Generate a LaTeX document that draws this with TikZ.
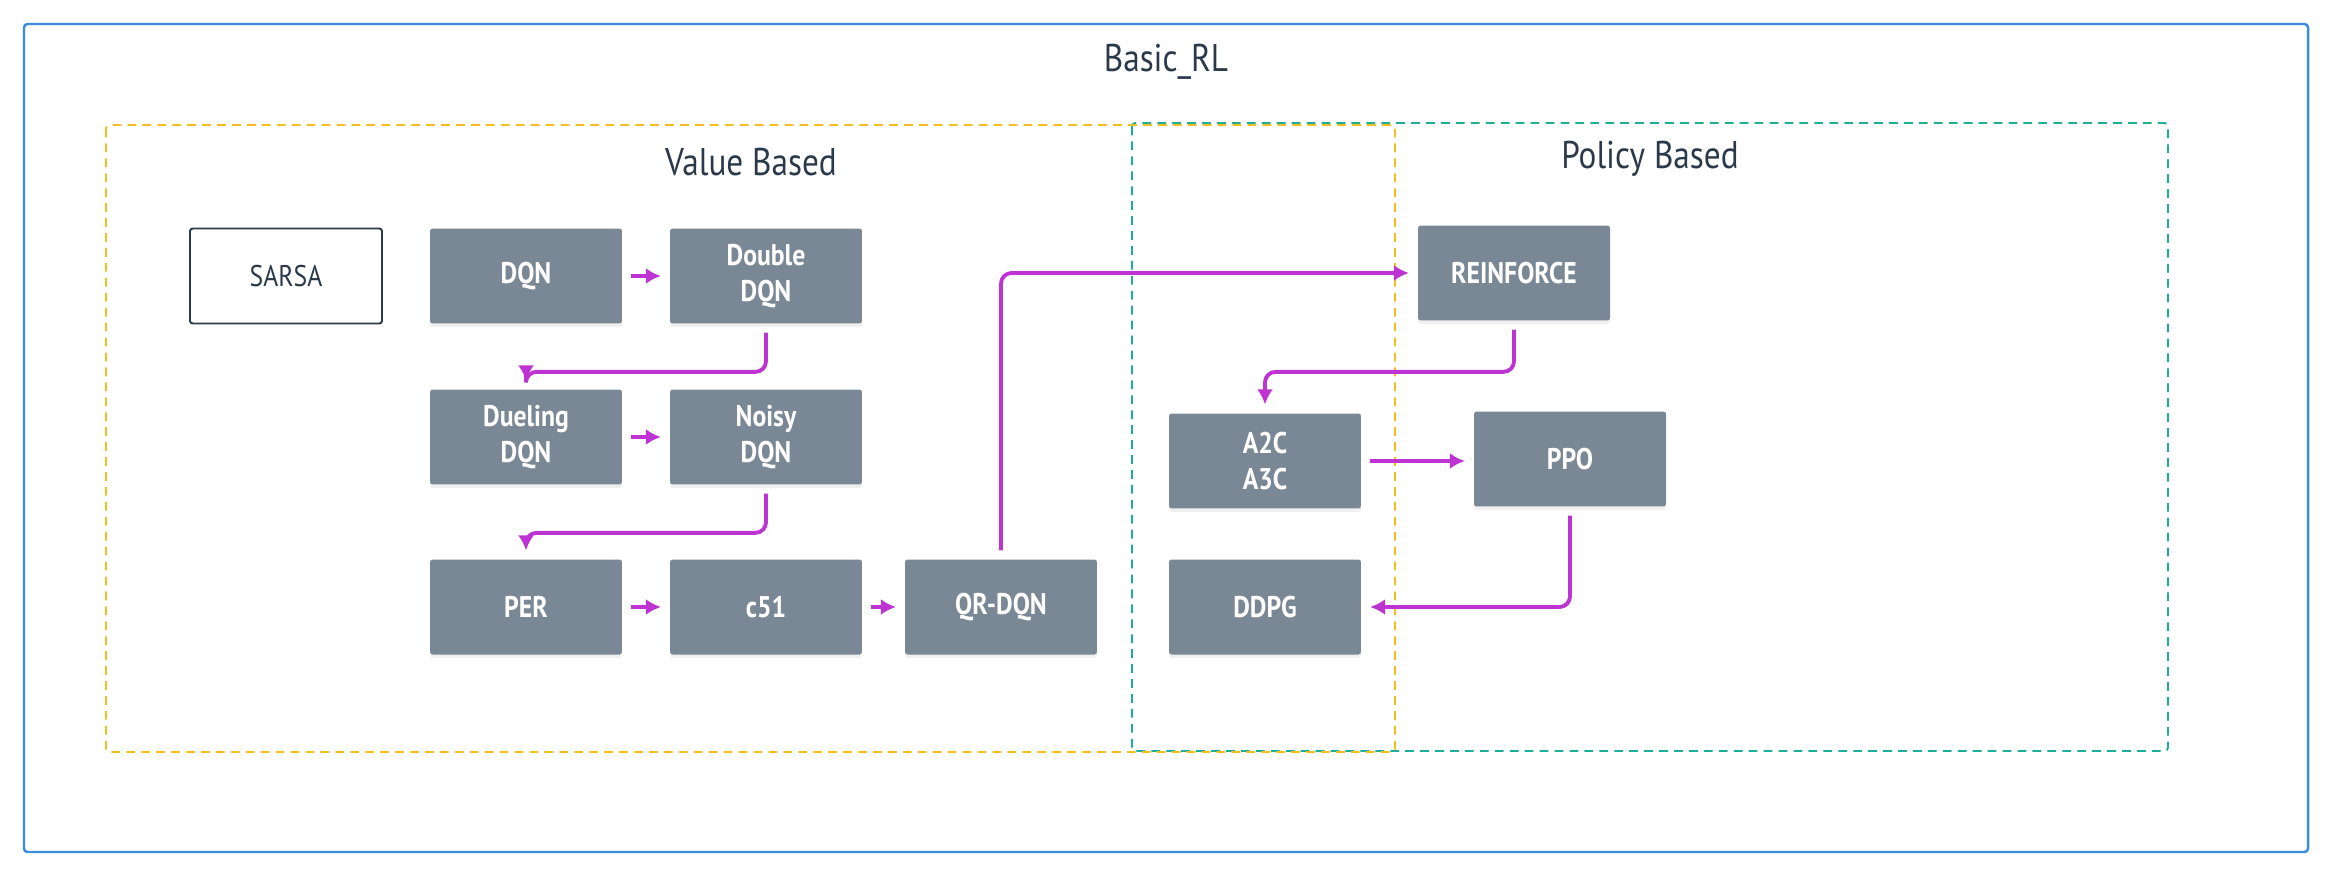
\documentclass[tikz,border=0pt]{standalone}
\usepackage{fontspec}
\setmainfont{PT Sans}[FakeStretch=0.86]
\usetikzlibrary{arrows.meta, positioning, shadows}

\definecolor{algofill}{HTML}{7A8896}
\definecolor{flowpink}{HTML}{BE34D2}
\definecolor{frameblue}{HTML}{3A8DDE}
\definecolor{valueyellow}{HTML}{F4BE1E}
\definecolor{policyteal}{HTML}{1DAE98}
\definecolor{inkdark}{HTML}{2B3A4B}

\begin{document}
\begin{tikzpicture}[x=0.02cm, y=-0.02cm, >={Latex[length=3mm, width=3.2mm]},
    algo/.style={rectangle, rounded corners=1.5pt, fill=algofill, text=white,
        minimum width=3.84cm, minimum height=1.9cm, align=center,
        font=\fontsize{17}{20.5}\selectfont\bfseries,
        drop shadow={shadow xshift=0pt, shadow yshift=-2pt, opacity=0.12}},
    plain/.style={rectangle, rounded corners=1.5pt, draw=inkdark, line width=1.1pt,
        fill=white, text=inkdark, minimum width=3.84cm, minimum height=1.9cm,
        font=\fontsize{17}{20.5}\selectfont},
    flow/.style={->, draw=flowpink, line width=2.2pt, rounded corners=6pt,
        shorten >=5pt, shorten <=5pt},
    header/.style={text=inkdark, font=\fontsize{22}{26}\selectfont}]

    \useasboundingbox (0,0) rectangle (2332,876);

    % --- 外框 ---
    \draw[frameblue, line width=1.4pt, rounded corners=2pt] (24,24) rectangle (2308,852);
    \node[header] (basic) at (1166,62) {Basic\_RL};

    % --- 分组虚线框 ---
    \draw[policyteal, line width=1.1pt, dashed, dash pattern=on 5pt off 3.5pt,
        rounded corners=2pt] (1132,123) rectangle (2168,751);
    \draw[valueyellow, line width=1.1pt, dashed, dash pattern=on 5pt off 3.5pt,
        rounded corners=2pt] (106,125) rectangle (1395,752);
    \node[header] (value) at (751,162) {Value Based};
    \node[header] (policy) at (1650,159) {Policy Based};

    % --- Value Based ---
    \node[plain] (sarsa) at (286,276) {SARSA};
    \node[algo] (dqn) at (526,276) {DQN};
    \node[algo] (double) at (766,276) {Double\\DQN};
    \node[algo] (dueling) at (526,437) {Dueling\\DQN};
    \node[algo] (noisy) at (766,437) {Noisy\\DQN};
    \node[algo] (per) at (526,607) {PER};
    \node[algo] (cfiftyone) at (766,607) {c51};
    \node[algo] (qrdqn) at (1001,607) {QR-DQN};

    % --- Policy Based ---
    \node[algo] (reinforce) at (1514,273) {REINFORCE};
    \node[algo] (actor) at (1265,461) {A2C\\A3C};
    \node[algo] (ppo) at (1570,459) {PPO};
    \node[algo] (ddpg) at (1265,607) {DDPG};

    % --- 连线 ---
    \draw[flow] (dqn) -- (double);
    \draw[flow] (double.south) -- ++(0,48) -| (dueling.north);
    \draw[flow] (dueling) -- (noisy);
    \draw[flow] (noisy.south) -- ++(0,48) -| (per.north);
    \draw[flow] (per) -- (cfiftyone);
    \draw[flow] (cfiftyone) -- (qrdqn);
    \draw[flow] (qrdqn.north) |- (reinforce.west);
    \draw[flow] (reinforce.south) -- ++(0,51) -| (actor.north);
    \draw[flow] (actor.east) -- (actor.east -| ppo.west);
    \draw[flow] (ppo.south) |- (ddpg.east);
\end{tikzpicture}
\end{document}
